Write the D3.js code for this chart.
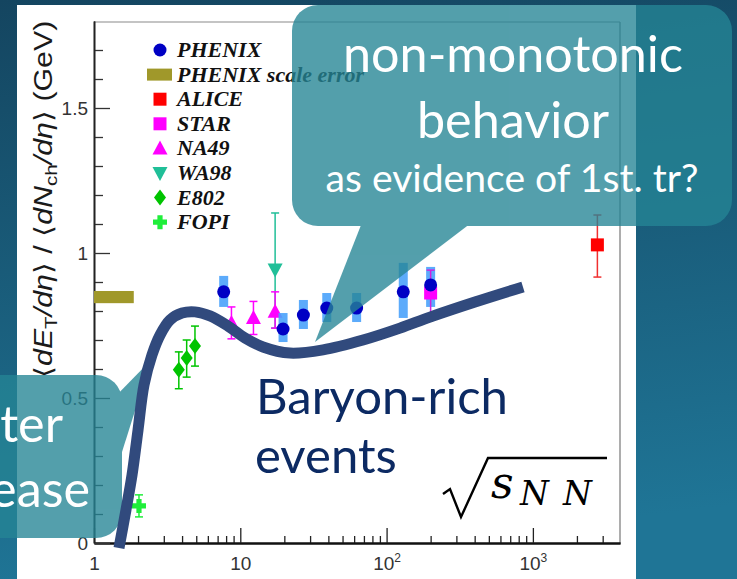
<!DOCTYPE html>
<html>
<head>
<meta charset="utf-8">
<script src="https://cdn.jsdelivr.net/npm/d3@7"></script>
<style>
  html, body { margin: 0; padding: 0; background: #17506b; }
  svg { display: block; }
</style>
</head>
<body>
<svg id="chart" width="737" height="579"></svg>
<script>
// ---- data ----
const phenixEnergy   = [7.7, 19.6, 27, 39, 62.4, 130, 200];
const phenixValue    = [0.866, 0.738, 0.786, 0.810, 0.810, 0.866, 0.890];
const phenixSysLow   = [0.814, 0.693, 0.738, 0.762, 0.762, 0.776, 0.814];
const phenixSysHigh  = [0.921, 0.793, 0.838, 0.862, 0.862, 0.966, 0.952];

const phenixScaleErrValue = 0.848;
const phenixScaleErrHalf  = 0.021;
const phenixScaleErrSpan  = [1, 1.87];

const aliceEnergy = [2760];
const aliceValue  = [1.028];
const aliceLow    = [0.917];
const aliceHigh   = [1.131];

const starEnergy = [200];
const starValue  = [0.862];
const starLow    = [0.786];
const starHigh   = [0.941];

const na49Energy = [8.7, 12.3, 17.3];
const na49Value  = [0.759, 0.776, 0.797];
const na49Low    = [0.704, 0.719, 0.741];
const na49High   = [0.814, 0.833, 0.866];

const wa98Energy = [17.3];
const wa98Value  = [0.943];
const wa98Low    = [0.741];
const wa98High   = [1.138];

const e802Energy = [3.8, 4.3, 4.9];
const e802Value  = [0.597, 0.638, 0.679];
const e802Low    = [0.532, 0.572, 0.610];
const e802High   = [0.659, 0.700, 0.748];

const fopiEnergy = [2.03];
const fopiValue  = [0.128];
const fopiLow    = [0.090];
const fopiHigh   = [0.166];

// hand-drawn trend curve (energy, value)
const curveEnergy = [1.482, 1.654, 1.819, 2.0, 2.197, 2.49, 2.826, 3.307, 3.996, 4.903, 6.21, 8.24, 10.77, 14.3, 21.87, 36.76, 69.0, 123.5, 198, 402, 855.6];
const curveValue  = [-0.017, 0.114, 0.234, 0.390, 0.545, 0.648, 0.717, 0.769, 0.793, 0.797, 0.783, 0.748, 0.707, 0.676, 0.655, 0.666, 0.700, 0.741, 0.779, 0.831, 0.883];

const xMajorTicks = [1, 10, 100, 1000];
const yMajorTicks = [0, 0.5, 1, 1.5];
const yTickLabels = ["0", "0.5", "1", "1.5"];

const legendNames  = ["PHENIX", "PHENIX scale error", "ALICE", "STAR", "NA49", "WA98", "E802", "FOPI"];
const legendShapes = ["circle", "bar", "square", "square", "tri-up", "tri-down", "diamond", "cross"];
const legendColors = ["#0000c4", "#a0982a", "#ff0000", "#ff00ff", "#ff00ff", "#20bf98", "#00c400", "#1fee3a"];

// ---- setup ----
const svg = d3.select("#chart");
const W = 737, H = 579;

const defs = svg.append("defs");
const grad = defs.append("linearGradient").attr("id", "bg").attr("x1", 0).attr("y1", 0).attr("x2", 0.15).attr("y2", 1);
grad.append("stop").attr("offset", "0%").attr("stop-color", "#144560");
grad.append("stop").attr("offset", "100%").attr("stop-color", "#1f7596");
svg.append("rect").attr("width", W).attr("height", H).attr("fill", "url(#bg)");

// figure card
svg.append("rect").attr("x", 17).attr("y", 5).attr("width", 619).attr("height", 580).attr("fill", "#ffffff");

const x = d3.scaleLog().domain([1, 3940]).range([94, 620]);
const y = d3.scaleLinear().domain([0, 1.8]).range([543, 21]);

const plot = svg.append("g");

// frame (top and right)
plot.append("line").attr("x1", x(1)).attr("x2", x(3940)).attr("y1", y(1.8) + 1).attr("y2", y(1.8) + 1)
  .attr("stroke", "#8a8a8a").attr("stroke-width", 1.2);
plot.append("line").attr("x1", x(3940)).attr("x2", x(3940)).attr("y1", y(1.8) + 1).attr("y2", y(0))
  .attr("stroke", "#8a8a8a").attr("stroke-width", 1.4);

// x axis
const xMinorTicks = x.ticks().filter(t => !xMajorTicks.includes(t));
const xMinor = plot.append("g").attr("transform", `translate(0,${y(0)})`)
  .call(d3.axisBottom(x).tickValues(xMinorTicks).tickSize(-7).tickSizeOuter(0).tickFormat(""));
const xMajor = plot.append("g").attr("transform", `translate(0,${y(0)})`)
  .call(d3.axisBottom(x).tickValues(xMajorTicks).tickSize(-15).tickSizeOuter(0).tickPadding(14).tickFormat(""));
[xMinor, xMajor].forEach(g => {
  g.select(".domain").attr("stroke", "#111").attr("stroke-width", 2.2);
  g.selectAll(".tick line").attr("stroke", "#222").attr("stroke-width", 1.3);
});
xMajor.selectAll(".tick text").each(function(d) {
  const t = d3.select(this);
  const p = Math.round(Math.log10(d));
  t.attr("font-family", "Liberation Sans, Arial, sans-serif").attr("font-size", 19).attr("fill", "#333");
  if (p < 2) {
    t.text(String(d));
  } else {
    t.text("10");
    t.append("tspan").attr("font-size", 12).attr("dy", -8).text(String(p));
  }
});

// y axis
const yMinorTicks = y.ticks(18).filter(t => !yMajorTicks.some(m => Math.abs(m - t) < 1e-9) && t < 1.75);
const yMinor = plot.append("g").attr("transform", `translate(${x(1)},0)`)
  .call(d3.axisLeft(y).tickValues(yMinorTicks).tickSize(-9).tickSizeOuter(0).tickFormat(""));
const yMajor = plot.append("g").attr("transform", `translate(${x(1)},0)`)
  .call(d3.axisLeft(y).tickValues(yMajorTicks).tickSize(-16).tickSizeOuter(0).tickPadding(6)
    .tickFormat((d, i) => yTickLabels[i]));
[yMinor, yMajor].forEach(g => {
  g.select(".domain").attr("stroke", "#222").attr("stroke-width", 1.6);
  g.selectAll(".tick line").attr("stroke", "#333").attr("stroke-width", 1.3);
});
yMajor.selectAll(".tick text").attr("font-family", "Liberation Sans, Arial, sans-serif")
  .attr("font-size", 19).attr("fill", "#333");

// y axis title
const yTitle = svg.append("text")
  .attr("font-family", "Liberation Sans, Arial, sans-serif").attr("font-size", 25).attr("fill", "#1a1a1a");
const yParts = [
  ["\u27E8", "normal", 0], ["dE", "italic", 0], ["T", "normal", 5], ["/d", "italic", -5], ["\u03B7", "italic", 0],
  ["\u27E9 / \u27E8", "normal", 0], ["dN", "italic", 0], ["ch", "normal", 5], ["/d", "italic", -5], ["\u03B7", "italic", 0],
  ["\u27E9  (GeV)", "normal", 0]
];
yParts.forEach(([txt, style, dy]) => {
  const ts = yTitle.append("tspan").attr("font-style", style).text(txt);
  if (dy) ts.attr("dy", dy);
  if (txt === "T" || txt === "ch") ts.attr("font-size", 17);
});
{
  const len = yTitle.node().getComputedTextLength();
  const s = 358 / len;
  yTitle.attr("transform", `translate(52,378) rotate(-90) scale(${s},1)`);
}

// ---- data marks ----
const marks = svg.append("g");

// PHENIX scale error bar
marks.append("rect")
  .attr("x", x(phenixScaleErrSpan[0])).attr("width", x(phenixScaleErrSpan[1]) - x(phenixScaleErrSpan[0]))
  .attr("y", y(phenixScaleErrValue + phenixScaleErrHalf))
  .attr("height", y(phenixScaleErrValue - phenixScaleErrHalf) - y(phenixScaleErrValue + phenixScaleErrHalf))
  .attr("fill", "#a0982a");

function errorBars(energy, low, high, color, width) {
  const g = marks.append("g").attr("stroke", color).attr("stroke-width", width || 1.5).attr("fill", "none");
  energy.forEach((e, i) => {
    const cx = x(e);
    g.append("line").attr("x1", cx).attr("x2", cx).attr("y1", y(low[i])).attr("y2", y(high[i]));
    g.append("line").attr("x1", cx - 4).attr("x2", cx + 4).attr("y1", y(low[i])).attr("y2", y(low[i]));
    g.append("line").attr("x1", cx - 4).attr("x2", cx + 4).attr("y1", y(high[i])).attr("y2", y(high[i]));
  });
}

function shapePath(kind, cx, cy) {
  const p = d3.path();
  if (kind === "tri-up") {
    p.moveTo(cx, cy - 8); p.lineTo(cx + 7.5, cy + 6); p.lineTo(cx - 7.5, cy + 6); p.closePath();
  } else if (kind === "tri-down") {
    p.moveTo(cx, cy + 8); p.lineTo(cx + 7.5, cy - 6); p.lineTo(cx - 7.5, cy - 6); p.closePath();
  } else if (kind === "diamond") {
    p.moveTo(cx, cy - 8); p.lineTo(cx + 6, cy); p.lineTo(cx, cy + 8); p.lineTo(cx - 6, cy); p.closePath();
  } else if (kind === "cross") {
    const a = 7, b = 2.6;
    p.moveTo(cx - b, cy - a); p.lineTo(cx + b, cy - a); p.lineTo(cx + b, cy - b); p.lineTo(cx + a, cy - b);
    p.lineTo(cx + a, cy + b); p.lineTo(cx + b, cy + b); p.lineTo(cx + b, cy + a); p.lineTo(cx - b, cy + a);
    p.lineTo(cx - b, cy + b); p.lineTo(cx - a, cy + b); p.lineTo(cx - a, cy - b); p.lineTo(cx - b, cy - b); p.closePath();
  } else if (kind === "square") {
    p.rect(cx - 6.5, cy - 6.5, 13, 13);
  }
  return p.toString();
}

// FOPI
errorBars(fopiEnergy, fopiLow, fopiHigh, "#1fee3a", 1.5);
fopiEnergy.forEach((e, i) => marks.append("path").attr("d", shapePath("cross", x(e), y(fopiValue[i]))).attr("fill", "#1fee3a"));

// E802
errorBars(e802Energy, e802Low, e802High, "#00c400", 1.5);
e802Energy.forEach((e, i) => marks.append("path").attr("d", shapePath("diamond", x(e), y(e802Value[i]))).attr("fill", "#00c400"));

// WA98
errorBars(wa98Energy, wa98Low, wa98High, "#20bf98", 1.5);
wa98Energy.forEach((e, i) => marks.append("path").attr("d", shapePath("tri-down", x(e), y(wa98Value[i]))).attr("fill", "#20bf98"));

// NA49
errorBars(na49Energy, na49Low, na49High, "#ff00ff", 1.5);
na49Energy.forEach((e, i) => marks.append("path").attr("d", shapePath("tri-up", x(e), y(na49Value[i]))).attr("fill", "#ff00ff"));

// PHENIX systematic bands
marks.append("g").selectAll("rect").data(phenixEnergy).join("rect")
  .attr("x", d => x(d) - 4.5).attr("width", 9)
  .attr("y", (d, i) => y(phenixSysHigh[i]))
  .attr("height", (d, i) => y(phenixSysLow[i]) - y(phenixSysHigh[i]))
  .attr("fill", "#4aa2fb").attr("opacity", 0.9);

// STAR
errorBars(starEnergy, starLow, starHigh, "#d020e0", 1.5);
starEnergy.forEach((e, i) => marks.append("path").attr("d", shapePath("square", x(e), y(starValue[i]))).attr("fill", "#ff00ff"));

// PHENIX points
marks.append("g").selectAll("circle").data(phenixEnergy).join("circle")
  .attr("cx", d => x(d)).attr("cy", (d, i) => y(phenixValue[i])).attr("r", 6.5).attr("fill", "#0000c4");

// ALICE
errorBars(aliceEnergy, aliceLow, aliceHigh, "#f03030", 1.5);
aliceEnergy.forEach((e, i) => marks.append("path").attr("d", shapePath("square", x(e), y(aliceValue[i]))).attr("fill", "#ff0000"));

// ---- legend ----
const legend = svg.append("g");
legendNames.forEach((name, i) => {
  const cy = 50 + i * 24.6;
  const kind = legendShapes[i];
  const col = legendColors[i];
  if (kind === "circle") legend.append("circle").attr("cx", 160).attr("cy", cy).attr("r", 6.5).attr("fill", col);
  else if (kind === "bar") legend.append("rect").attr("x", 147).attr("y", cy - 6).attr("width", 25).attr("height", 12).attr("fill", col);
  else legend.append("path").attr("d", shapePath(kind, 160, cy)).attr("fill", col);
  legend.append("text").attr("x", 177).attr("y", cy + 7)
    .attr("font-family", "Liberation Serif, Times New Roman, serif").attr("font-weight", "bold").attr("font-style", "italic")
    .attr("font-size", 22).attr("fill", "#111").text(name);
});

// ---- callouts ----
const calloutFill = "rgb(37,133,149)";
const c1 = svg.append("g").attr("opacity", 0.785);
c1.append("rect").attr("x", 292).attr("y", 5).attr("width", 440).attr("height", 221).attr("rx", 26).attr("fill", calloutFill);
c1.append("path").attr("d", "M363,220 L475,220 L315,342 Z").attr("fill", calloutFill);

const c2 = svg.append("g").attr("opacity", 0.785);
c2.append("rect").attr("x", -40).attr("y", 375).attr("width", 162).attr("height", 163).attr("rx", 26).attr("fill", calloutFill);
c2.append("path").attr("d", "M110,402 L151,360 L122,452 L110,452 Z").attr("fill", calloutFill);

// ---- trend curve ----
const curveLine = d3.line()
  .x((d, i) => x(curveEnergy[i]))
  .y((d, i) => y(curveValue[i]))
  .curve(d3.curveCatmullRom.alpha(0.5));
svg.append("path").datum(curveEnergy).attr("d", curveLine)
  .attr("fill", "none").attr("stroke", "#314a7d").attr("stroke-width", 11).attr("stroke-linecap", "butt");

// ---- annotation text ----
const slideFont = "Lato, 'Open Sans', sans-serif";
function fitText(sel, width) {
  const w = sel.node().getComputedTextLength();
  const fs = parseFloat(sel.attr("font-size"));
  sel.attr("font-size", fs * width / w);
  return fs * width / w;
}
const t1 = svg.append("text").attr("x", 513).attr("y", 72).attr("text-anchor", "middle")
  .attr("font-family", slideFont).attr("font-size", 40).attr("fill", "#ffffff").text("non-monotonic");
const bigSize = fitText(t1, 340);
svg.append("text").attr("x", 513).attr("y", 138).attr("text-anchor", "middle")
  .attr("font-family", slideFont).attr("font-size", bigSize).attr("fill", "#ffffff").text("behavior");
const t3 = svg.append("text").attr("x", 512).attr("y", 192).attr("text-anchor", "middle")
  .attr("font-family", slideFont).attr("font-size", 28).attr("fill", "#ffffff").text("as evidence of 1st. tr?");
fitText(t3, 373);

// label of the left callout, running off the slide edge
svg.append("text").attr("x", 63).attr("y", 442).attr("text-anchor", "end")
  .attr("font-family", slideFont).attr("font-size", bigSize).attr("fill", "#ffffff").text("ter");
svg.append("text").attr("x", 90).attr("y", 507).attr("text-anchor", "end")
  .attr("font-family", slideFont).attr("font-size", bigSize).attr("fill", "#ffffff").text("ease");

const b1 = svg.append("text").attr("x", 256).attr("y", 414)
  .attr("font-family", slideFont).attr("font-size", 44).attr("fill", "#0c2a63").text("Baryon-rich");
const bSize = fitText(b1, 252);
svg.append("text").attr("x", 255).attr("y", 473)
  .attr("font-family", slideFont).attr("font-size", bSize).attr("fill", "#0c2a63").text("events");

// sqrt(s_NN) axis title
svg.append("path").attr("d", "M443,494 L450,489 L461,517 L488,458 L607,458")
  .attr("fill", "none").attr("stroke", "#000").attr("stroke-width", 2.4).attr("stroke-linejoin", "miter");
svg.append("text").attr("x", 491).attr("y", 498)
  .attr("font-family", "'DejaVu Serif', serif").attr("font-style", "italic")
  .attr("font-size", 44).attr("fill", "#000").text("s");
const sub = svg.append("text").attr("y", 505)
  .attr("font-family", "'DejaVu Serif', serif").attr("font-style", "italic")
  .attr("font-size", 33).attr("fill", "#000");
sub.append("tspan").attr("x", 520).text("N");
sub.append("tspan").attr("x", 563).text("N");
</script>
</body>
</html>
